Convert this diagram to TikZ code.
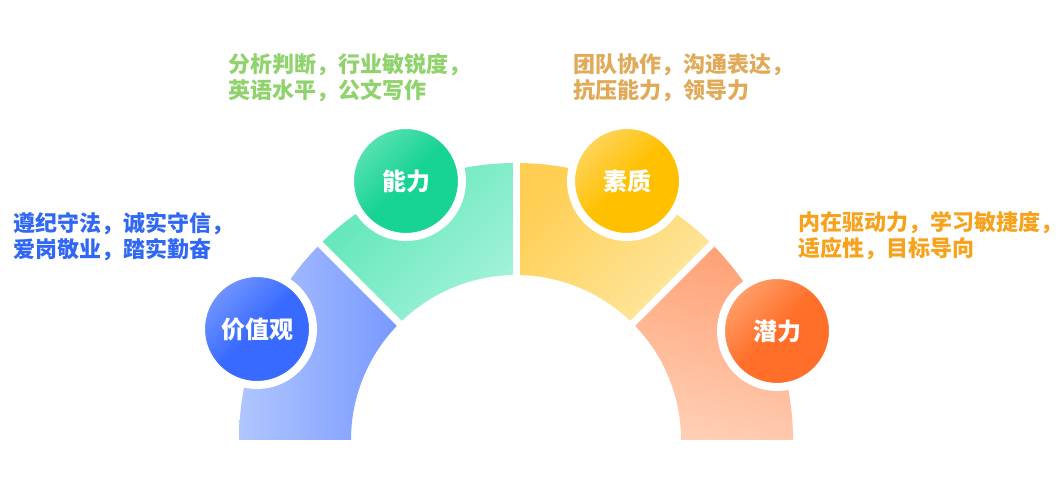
\documentclass[tikz,border=0pt]{standalone}
\usepackage{fontspec}
\setmainfont{Noto Sans CJK SC}
\definecolor{blueL}{HTML}{B0C6FF}
\definecolor{blueR}{HTML}{7898FF}
\definecolor{greenD}{HTML}{5CE6B6}
\definecolor{greenL}{HTML}{A2F2DA}
\definecolor{yelD}{HTML}{FFCE52}
\definecolor{yelL}{HTML}{FEE7A0}
\definecolor{orgD}{HTML}{FFA074}
\definecolor{orgL}{HTML}{FFCEB4}
\definecolor{cBlue}{HTML}{386AFF}
\definecolor{cBlueH}{HTML}{7396FF}
\definecolor{cGreen}{HTML}{17D394}
\definecolor{cGreenH}{HTML}{5AE2B2}
\definecolor{cYel}{HTML}{FFC000}
\definecolor{cYelH}{HTML}{FFD55E}
\definecolor{cOrg}{HTML}{FF6F29}
\definecolor{cOrgH}{HTML}{FFA06A}
\definecolor{tBlue}{HTML}{3068F5}
\definecolor{tGreen}{HTML}{90D26C}
\definecolor{tGold}{HTML}{E0AA58}
\definecolor{tOrange}{HTML}{F8A21C}
\tikzset{
  bubble/.style={circle, inner sep=0pt, minimum size=112pt, draw=white, line width=8pt,
    text=white, font=\bfseries\fontsize{24}{24}\selectfont},
  desc/.style={anchor=west, inner sep=0pt, align=left, font=\bfseries\fontsize{22}{26}\selectfont},
  gap/.style={white, line width=7pt}
}
\begin{document}
\begin{tikzpicture}[x=1pt,y=1pt]
\useasboundingbox (0,0) rectangle (1064,492);
\fill[white] (0,0) rectangle (1064,492);
\begin{scope}[shift={(516,52)}]
  \shade[left color=blueL, right color=blueR]
    (180:277pt) arc[start angle=180, end angle=135, radius=277pt]
    -- (135:165pt) arc[start angle=135, end angle=180, radius=165pt] -- cycle;
  \shade[top color=greenD, bottom color=greenL, shading angle=45]
    (135:277pt) arc[start angle=135, end angle=90, radius=277pt]
    -- (90:165pt) arc[start angle=90, end angle=135, radius=165pt] -- cycle;
  \shade[top color=yelD, bottom color=yelL, shading angle=45]
    (90:277pt) arc[start angle=90, end angle=45, radius=277pt]
    -- (45:165pt) arc[start angle=45, end angle=90, radius=165pt] -- cycle;
  \shade[top color=orgD, bottom color=orgL, shading angle=-15]
    (45:277pt) arc[start angle=45, end angle=0, radius=277pt]
    -- (0:165pt) arc[start angle=0, end angle=45, radius=165pt] -- cycle;
  \coordinate (g1a) at (135:150pt); \coordinate (g1b) at (135:295pt);
  \coordinate (g2a) at (90:150pt);  \coordinate (g2b) at (90:295pt);
  \coordinate (g3a) at (45:150pt);  \coordinate (g3b) at (45:295pt);
  \draw[gap] (g1a) -- (g1b);
  \draw[gap] (g2a) -- (g2b);
  \draw[gap] (g3a) -- (g3b);
\end{scope}
\node[bubble, top color=cBlueH, bottom color=cBlue, middle color=cBlue, shading angle=45] (v) at (257,163) {价值观};
\node[bubble, top color=cGreenH, bottom color=cGreen, middle color=cGreen, shading angle=45] (n) at (406,311) {能力};
\node[bubble, top color=cYelH, bottom color=cYel, middle color=cYel, shading angle=45] (s) at (627,311) {素质};
\node[bubble, top color=cOrgH, bottom color=cOrg, middle color=cOrg, shading angle=45] (q) at (777,161) {潜力};
\node[desc, text=tBlue] (tv) at (13,255) {遵纪守法，诚实守信，\\爱岗敬业，踏实勤奋};
\node[desc, text=tGreen] (tn) at (228,414.5) {分析判断，行业敏锐度，\\英语水平，公文写作};
\node[desc, text=tGold] (ts) at (573,414.5) {团队协作，沟通表达，\\抗压能力，领导力};
\node[desc, text=tOrange] (tq) at (798,256) {内在驱动力，学习敏捷度，\\适应性，目标导向};
\end{tikzpicture}
\end{document}
